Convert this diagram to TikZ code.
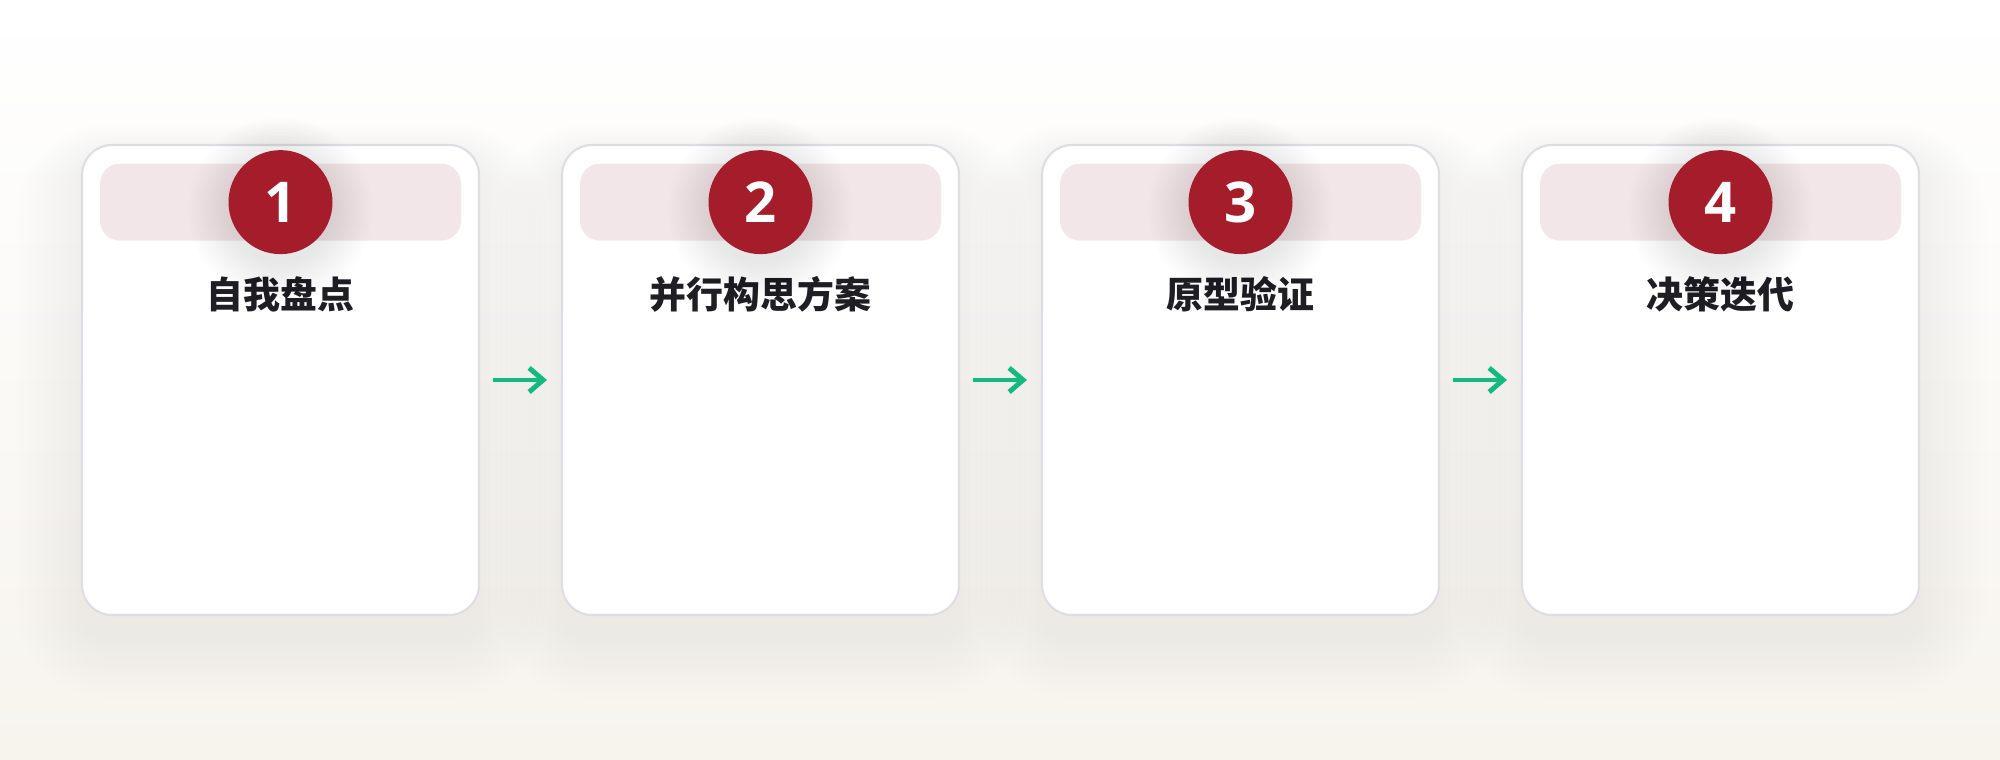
\documentclass[tikz,border=0pt]{standalone}
\usepackage{fontspec}
\newfontfamily\cjk{Noto Sans CJK SC}
\newfontfamily\numfont{Open Sans}
\usetikzlibrary{positioning, arrows.meta}

\definecolor{cardline}{HTML}{DDDDE4}
\definecolor{bandpink}{HTML}{F3E6E9}
\definecolor{badgered}{HTML}{A51C2B}
\definecolor{flowgreen}{HTML}{12B981}
\definecolor{titleink}{HTML}{1E1E24}
\definecolor{bgbottom}{HTML}{F7F4EE}

\pgfdeclarelayer{back}
\pgfdeclarelayer{shade}
\pgfdeclarelayer{front}
\pgfsetlayers{back,shade,main,front}

% soft shadows, drawn as stacked translucent shapes
\newcommand{\cardshade}[1]{%
  \foreach \k in {1,...,12}
    \fill[black, opacity=0.0045, rounded corners=0.3cm+\k*0.055cm]
      ([xshift=-\k*0.055cm, yshift=-0.22cm-\k*0.05cm]#1.south west)
      rectangle ([xshift=\k*0.055cm, yshift=-0.15cm+\k*0.03cm]#1.north east);
}
\newcommand{\badgeshade}[1]{%
  \foreach \k in {1,...,12}
    \fill[black, opacity=0.006] ([yshift=-0.08cm]#1.center) circle[radius=0.5cm+\k*0.035cm];
}

\tikzset{
  card/.style={draw=cardline, line width=0.6pt, fill=white, rounded corners=0.3cm,
    minimum width=3.97cm, minimum height=4.70cm},
  band/.style={fill=bandpink, rounded corners=0.2cm, minimum width=3.61cm, minimum height=0.77cm},
  badge/.style={circle, fill=badgered, minimum size=1.04cm, inner sep=0pt, text=white,
    font=\numfont\bfseries\fontsize{16}{16}\selectfont},
  title/.style={text=titleink, font=\cjk\bfseries\fontsize{10.5}{12}\selectfont},
  flow/.style={->, draw=flowgreen, line width=1.4pt, shorten <=0.13cm, shorten >=0.14cm}
}

\begin{document}
\begin{tikzpicture}[>={Straight Barb[length=0.14cm, width=0.24cm]}, node distance=4.80cm]

  % background
  \begin{pgfonlayer}{back}
    \shade[top color=white, bottom color=bgbottom] (0,0) rectangle (20,7.6);
  \end{pgfonlayer}
  \useasboundingbox (0,0) rectangle (20,7.6);

  \node[card] (c1) at (2.805,3.80) {};
  \node[card] (c2) [right of=c1] {};
  \node[card] (c3) [right of=c2] {};
  \node[card] (c4) [right of=c3] {};

  \begin{pgfonlayer}{shade}
    \cardshade{c1} \cardshade{c2} \cardshade{c3} \cardshade{c4}
  \end{pgfonlayer}

  \node[band] (b1) [below=0.19cm of c1.north] {};
  \node[band] (b2) [below=0.19cm of c2.north] {};
  \node[band] (b3) [below=0.19cm of c3.north] {};
  \node[band] (b4) [below=0.19cm of c4.north] {};

  \begin{pgfonlayer}{front}
    \badgeshade{b1} \badgeshade{b2} \badgeshade{b3} \badgeshade{b4}
    \node[badge] (n1) at (b1.center) {1};
    \node[badge] (n2) at (b2.center) {2};
    \node[badge] (n3) at (b3.center) {3};
    \node[badge] (n4) at (b4.center) {4};
  \end{pgfonlayer}

  \node[title] (t1) at (c1.north) [yshift=-1.50cm] {自我盘点};
  \node[title] (t2) at (c2.north) [yshift=-1.50cm] {并行构思方案};
  \node[title] (t3) at (c3.north) [yshift=-1.50cm] {原型验证};
  \node[title] (t4) at (c4.north) [yshift=-1.50cm] {决策迭代};

  \draw[flow] (c1) -- (c2);
  \draw[flow] (c2) -- (c3);
  \draw[flow] (c3) -- (c4);

\end{tikzpicture}
\end{document}
